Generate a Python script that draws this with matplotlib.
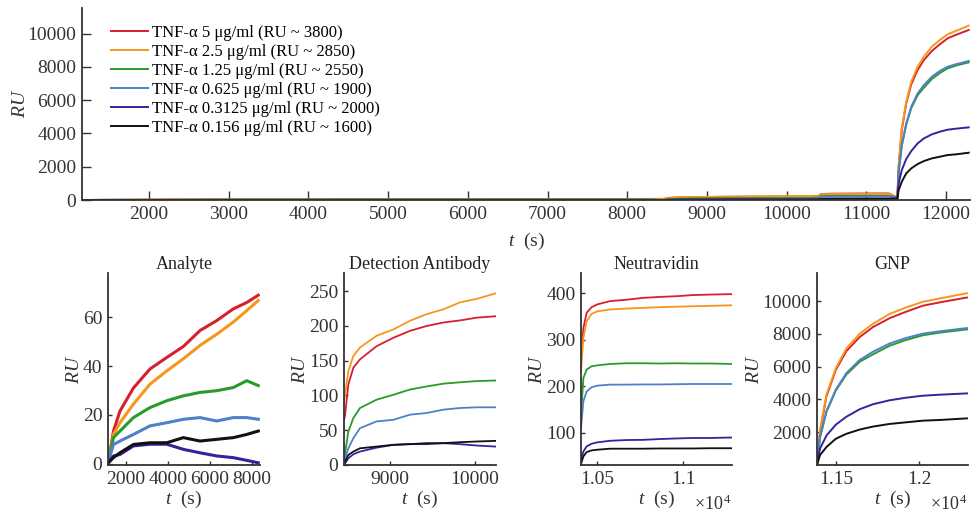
import matplotlib
matplotlib.use('Agg')
import matplotlib.pyplot as plt
import numpy as np

plt.rcParams['font.family'] = ['Liberation Serif', 'DejaVu Serif']
plt.rcParams['mathtext.fontset'] = 'custom'
plt.rcParams['mathtext.rm'] = 'Liberation Serif'
plt.rcParams['mathtext.it'] = 'Liberation Serif:italic'
plt.rcParams['font.size'] = 14

labels = ['TNF-α 5 μg/ml (RU ~ 3800)', 'TNF-α 2.5 μg/ml (RU ~ 2850)',
          'TNF-α 1.25 μg/ml (RU ~ 2550)', 'TNF-α 0.625 μg/ml (RU ~ 1900)',
          'TNF-α 0.3125 μg/ml (RU ~ 2000)', 'TNF-α 0.156 μg/ml (RU ~ 1600)']
colors = ['#d81f2c', '#f7961c', '#2a9a2a', '#4f80c8', '#3b1f9c', '#111111']

# analyte step
t_an = [1160, 1400, 1710, 2350, 3140, 3940, 4730, 5520, 6320, 7110, 7750, 8300]
an_red = [1, 13.4, 21.6, 31, 38.8, 43.5, 48, 54.5, 58.6, 63.4, 66, 69]
an_orange = [1, 12, 16.8, 24.4, 32.6, 38, 43, 48.4, 53, 58, 62.7, 66.8]
an_green = [1, 10.7, 13.4, 18.9, 23, 25.8, 27.8, 29.2, 29.9, 31.2, 34, 32]
an_blue = [1, 7.9, 9.3, 12, 15.5, 16.8, 18.2, 18.9, 17.5, 18.9, 18.9, 18.2]
an_purple = [0.5, 3.2, 3.8, 7.3, 8, 8, 5.9, 4.5, 3.2, 2.5, 1.4, 0.4]
an_black = [0.5, 2.5, 4.5, 7.9, 8.6, 8.6, 10.7, 9.3, 10, 10.7, 12, 13.4]

# detection antibody step
t_da = [8460, 8471, 8510, 8569, 8647, 8843, 9039, 9235, 9431, 9627, 9824, 10020, 10243]
da_red = [65, 72, 116, 140, 152, 171, 183, 193, 200, 205, 208, 212, 214]
da_orange = [90, 101, 135, 157, 169, 186, 195, 207.5, 217, 224, 234, 239, 247]
da_green = [5, 17, 48, 67.6, 82, 94, 101, 108.6, 113, 117, 119, 120.7, 121.6]
da_blue = [2, 9.7, 24, 38.6, 53, 62.7, 65, 72.4, 74.8, 79.6, 82, 83, 83]
da_purple = [0, 2.4, 9.7, 15.4, 19.3, 25, 29, 30, 30, 31.4, 30, 28, 26.5]
da_black = [0, 4.8, 14.5, 19.3, 24, 26.5, 29, 30, 31.4, 31.4, 32.8, 33.8, 34.7]

# neutravidin step
t_nv = [10405, 10419, 10438, 10467, 10500, 10574, 10671, 10767, 10864, 10961, 11058, 11155, 11281]
nv_red = [254, 325, 358, 370, 376, 383, 386, 390, 392, 393.5, 396, 397, 398]
nv_orange = [232, 304, 340, 355.6, 361, 365, 367, 368.5, 370, 371, 372, 372.8, 374]
nv_green = [139, 218, 236, 243, 245, 248, 249.5, 249.5, 249, 249.5, 249, 249, 248]
nv_blue = [110, 168, 189, 198, 201.4, 203.6, 203.6, 204, 204, 204.5, 205, 205, 205]
nv_purple = [42, 60, 71, 76.7, 79.6, 83, 84.6, 85, 86.7, 88, 89, 89, 90]
nv_black = [33, 49.5, 58.8, 62.4, 63.8, 66, 66, 66, 66.5, 66.5, 66.5, 67, 67]

# GNP step
t_gnp = [11389, 11405, 11444, 11500, 11563, 11643, 11722, 11821, 11921, 12020, 12119, 12284]
gnp_red = [150, 2003, 4206, 5809, 6950, 7812, 8413, 8953, 9354, 9715, 9915, 10215]
gnp_orange = [150, 2103, 4306, 5909, 7111, 8012, 8613, 9214, 9614, 9955, 10155, 10476]
gnp_green = [150, 1680, 3250, 4550, 5520, 6300, 6750, 7271, 7631, 7912, 8072, 8272]
gnp_blue = [150, 1703, 3305, 4607, 5608, 6410, 6910, 7411, 7752, 8012, 8152, 8353]
gnp_purple = [100, 1000, 1800, 2464, 2944, 3405, 3706, 3946, 4106, 4226, 4286, 4367]
gnp_black = [80, 601, 1102, 1602, 1903, 2163, 2344, 2504, 2604, 2704, 2744, 2844]

analyte = [an_red, an_orange, an_green, an_blue, an_purple, an_black]
detection = [da_red, da_orange, da_green, da_blue, da_purple, da_black]
neutra = [nv_red, nv_orange, nv_green, nv_blue, nv_purple, nv_black]
gnp = [gnp_red, gnp_orange, gnp_green, gnp_blue, gnp_purple, gnp_black]

spine_c = '#333333'


def style(ax, ticklen=3):
    for s in ['top', 'right']:
        ax.spines[s].set_visible(False)
    for s in ['left', 'bottom']:
        ax.spines[s].set_color(spine_c)
        ax.spines[s].set_linewidth(1.3)
    ax.tick_params(direction='in', length=ticklen, width=1.0, color=spine_c,
                   labelcolor='#333333', labelsize=14, pad=4)


fig = plt.figure(figsize=(9.74, 5.17), dpi=100)

# full sensorgram
ax = fig.add_axes([0.0842, 0.613, 0.9117, 0.372])
t_all = t_an + t_da + t_nv + t_gnp
for i in range(6):
    y_all = analyte[i] + detection[i] + neutra[i] + gnp[i]
    ax.plot(t_all, y_all, color=colors[i], lw=1.4, label=labels[i])
ax.set_xlim(1160, 12300)
ax.set_ylim(0, 11550)
ax.set_xticks(np.arange(2000, 12001, 1000))
ax.set_yticks(np.arange(0, 10001, 2000))
style(ax, ticklen=6.5)
ax.set_ylabel('$RU$', color='#333333', labelpad=-1)
ax.set_xlabel('$t$  (s)', color='#333333', labelpad=6)
ax.legend(loc='upper left', bbox_to_anchor=(0.02, 0.97), frameon=False,
          handlelength=2.2, handletextpad=0.25, labelspacing=0.18,
          borderaxespad=0.3, fontsize=12)

# zoomed panels
boxes = [[0.1109, 0.1006, 0.156, 0.371], [0.3532, 0.1006, 0.156, 0.371],
         [0.5965, 0.1006, 0.155, 0.371], [0.8388, 0.1006, 0.155, 0.371]]
titles = ['Analyte', 'Detection Antibody', 'Neutravidin', 'GNP']
times = [t_an, t_da, t_nv, t_gnp]
sets = [analyte, detection, neutra, gnp]
xlims = [(1140, 8380), (8459, 10247), (10405, 11285), (11387, 12290)]
ylims = [(-0.5, 78), (0, 276), (31, 443), (0, 11700)]
xticks = [[2000, 4000, 6000, 8000], [9000, 10000], [10500, 11000], [11500, 12000]]
xticklabels = [['2000', '4000', '6000', '8000'], ['9000', '10000'],
               ['1.05', '1.1'], ['1.15', '1.2']]
yticks = [[0, 20, 40, 60], [0, 50, 100, 150, 200, 250], [100, 200, 300, 400],
          [2000, 4000, 6000, 8000, 10000]]
lws = [2.2, 1.3, 1.3, 1.4]

for k in range(4):
    a = fig.add_axes(boxes[k])
    for i in range(6):
        a.plot(times[k], sets[k][i], color=colors[i], lw=lws[k])
    a.set_xlim(*xlims[k])
    a.set_ylim(*ylims[k])
    a.set_xticks(xticks[k])
    a.set_xticklabels(xticklabels[k])
    a.set_yticks(yticks[k])
    style(a, ticklen=3)
    a.set_title(titles[k], fontsize=13, color='#222222', pad=1)
    a.set_ylabel('$RU$', color='#333333', labelpad=0)
    a.set_xlabel('$t$  (s)', color='#333333', labelpad=1)
    if k >= 2:
        a.text(1.0, -0.235, r'$\times\mathregular{10}^{\,4}$', transform=a.transAxes,
               ha='right', va='baseline', fontsize=13, color='#333333')

fig.savefig('out.png', dpi=100)
